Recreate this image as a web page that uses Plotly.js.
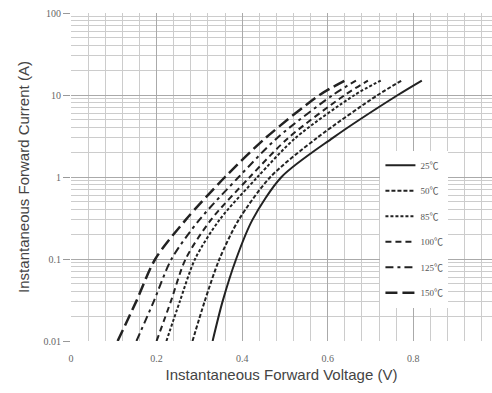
<!DOCTYPE html>
<html>
<head>
<meta charset="utf-8">
<script src="https://cdn.plot.ly/plotly-3.0.1.min.js"></script>
<style>html,body{margin:0;padding:0;background:#fff;}#chart{width:492px;height:393px;}</style>
</head>
<body>
<div id="chart"></div>
<script>
// Forward current points (A)
var current = [0.01, 0.03, 0.1, 0.3, 1, 3, 10, 15];
// Forward voltage (V) at each current, per junction temperature
var v25  = [0.331, 0.354, 0.386, 0.424, 0.492, 0.612, 0.764, 0.820];
var v50  = [0.284, 0.312, 0.347, 0.392, 0.466, 0.575, 0.717, 0.773];
var v85  = [0.223, 0.254, 0.290, 0.347, 0.436, 0.525, 0.663, 0.724];
var v100 = [0.200, 0.233, 0.268, 0.327, 0.418, 0.508, 0.640, 0.694];
var v125 = [0.153, 0.193, 0.235, 0.300, 0.392, 0.482, 0.612, 0.666];
var v150 = [0.109, 0.152, 0.197, 0.268, 0.360, 0.455, 0.581, 0.640];
var seriesNames = ['25℃', '50℃', '85℃', '100℃', '125℃', '150℃'];
var xTickVals = [0, 0.2, 0.4, 0.6, 0.8];
var xTickText = ['0', '0.2', '0.4', '0.6', '0.8'];
var yTickVals = [0.01, 0.1, 1, 10, 100];
var yTickText = ['0.01', '0.1', '1', '10', '100'];

var seriesV = [v25, v50, v85, v100, v125, v150];
var dashes = ['solid', '4px,2px', '3px,2px', '6px,4px', '8px,4px,3px,4px', '12px,5px'];
var widths = [2, 2, 2, 2, 2, 2.5];

var traces = seriesV.map(function (v, i) {
  return {
    x: v, y: current, type: 'scatter', mode: 'lines',
    name: seriesNames[i], legendgroup: 'g' + i,
    line: {color: '#222', width: widths[i], dash: dashes[i], shape: 'spline', smoothing: 0.8}
  };
});

var layout = {
  width: 492, height: 393,
  margin: {l: 71, r: 0, t: 13, b: 52},
  paper_bgcolor: '#fff', plot_bgcolor: '#fff',
  font: {family: 'Liberation Sans, Arial, sans-serif', color: '#555'},
  showlegend: true,
  legend: {
    x: 0.735, y: 0.58, xanchor: 'left', yanchor: 'top',
    bgcolor: '#fff', borderwidth: 0,
    traceorder: 'grouped', tracegroupgap: 6.5,
    font: {family: 'Liberation Serif, Noto Sans CJK SC, serif', size: 9, color: '#555'}
  },
  xaxis: {
    range: [0, 0.984], tickvals: xTickVals, ticktext: xTickText,
    showgrid: true, gridcolor: '#aaa', gridwidth: 1,
    minor: {dtick: 0.04, tick0: 0, showgrid: true, gridcolor: '#cccccc', gridwidth: 1},
    zeroline: false, showline: false, ticks: '', ticklabelstandoff: 10,
    tickfont: {size: 10, color: '#666', family: 'Liberation Serif, serif'},
    title: {text: 'Instantaneous Forward Voltage (V)', font: {size: 15, color: '#444'}, standoff: 6}
  },
  yaxis: {
    type: 'log', range: [-2, 2], tickvals: yTickVals, ticktext: yTickText,
    showgrid: true, gridcolor: '#aaa', gridwidth: 1,
    minor: {dtick: 'D1', showgrid: true, gridcolor: '#cccccc', gridwidth: 1},
    zeroline: false, showline: false, ticks: 'outside', ticklen: 7, tickcolor: '#999',
    tickfont: {size: 10, color: '#666', family: 'Liberation Serif, serif'},
    title: {text: 'Instantaneous Forward Current (A)', font: {size: 15, color: '#444'}, standoff: 10}
  }
};

Plotly.newPlot('chart', traces, layout, {displayModeBar: false, staticPlot: true});
</script>
</body>
</html>
